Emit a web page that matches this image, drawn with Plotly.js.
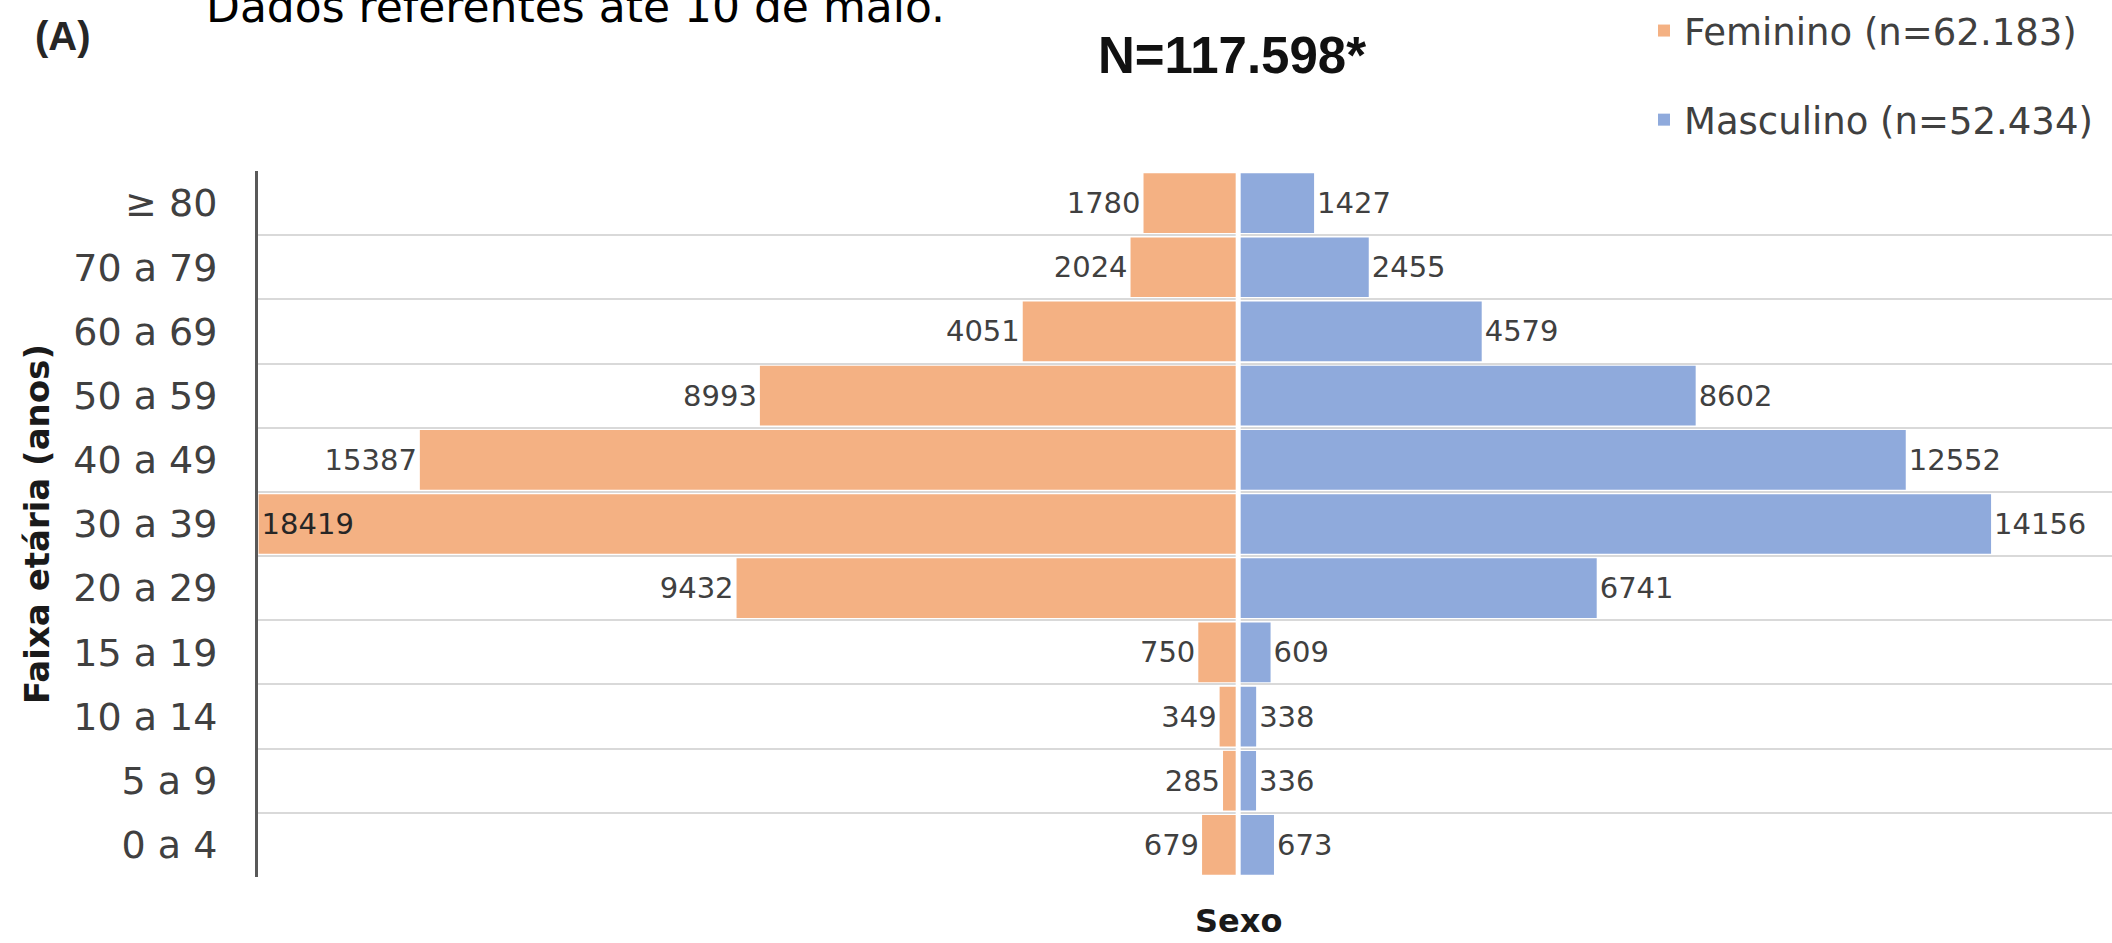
<!DOCTYPE html>
<html>
<head>
<meta charset="utf-8">
<script src="https://cdn.plot.ly/plotly-3.0.1.min.js"></script>
<style>
  html, body { margin: 0; padding: 0; background: #ffffff; overflow: hidden; }
  #chart { width: 2112px; height: 943px; }
</style>
</head>
<body>
<div id="chart"></div>
<script>
// Age groups, listed from bottom to top of the pyramid
const ageGroups = ["0 a 4", "5 a 9", "10 a 14", "15 a 19", "20 a 29", "30 a 39",
                   "40 a 49", "50 a 59", "60 a 69", "70 a 79", "\u2265 80"];
// Female cases per age group
const femaleValues = [679, 285, 349, 750, 9432, 18419, 15387, 8993, 4051, 2024, 1780];
// Male cases per age group
const maleValues = [673, 336, 338, 609, 6741, 14156, 12552, 8602, 4579, 2455, 1427];

const femaleName = "Feminino (n=62.183)";
const maleName = "Masculino (n=52.434)";
const chartTitle = "N=117.598*";
const panelLabel = "(A)";
const noteText = "Dados referentes at\u00e9 10 de maio.";
const yTitle = "Faixa et\u00e1ria (anos)";
const xTitle = "Sexo";

const femaleColor = "#F4B183";
const maleColor = "#8FAADC";
const labelFont = { family: "DejaVu Sans", size: 29, color: "#404040" };

const femaleMax = Math.max(...femaleValues);

const traces = [
  {
    type: "bar",
    orientation: "h",
    name: femaleName,
    legendgroup: "f",
    y: ageGroups,
    x: femaleValues.map(v => -v),
    text: femaleValues.map(v => String(v)),
    textposition: femaleValues.map(v => (v === femaleMax ? "inside" : "outside")),
    insidetextanchor: "end",
    textfont: labelFont,
    insidetextfont: { family: "DejaVu Sans", size: 29, color: "#262626" },
    outsidetextfont: labelFont,
    constraintext: "none",
    cliponaxis: false,
    marker: { color: femaleColor, line: { width: 0 } },
    hoverinfo: "skip"
  },
  {
    type: "bar",
    orientation: "h",
    name: maleName,
    legendgroup: "m",
    y: ageGroups,
    x: maleValues,
    text: maleValues.map(v => String(v)),
    textposition: "outside",
    textfont: labelFont,
    outsidetextfont: labelFont,
    constraintext: "none",
    cliponaxis: false,
    marker: { color: maleColor, line: { width: 0 } },
    hoverinfo: "skip"
  }
];

const W = 2112, H = 943;
const plotL = 258, plotR = 2112, plotT = 171, plotB = 877;
const pw = plotR - plotL, ph = plotB - plotT;
const px = v => (v - plotL) / pw;
const py = v => (plotB - v) / ph;

const layout = {
  width: W,
  height: H,
  margin: { l: plotL, r: W - plotR, t: plotT, b: H - plotB, pad: 0, autoexpand: false },
  paper_bgcolor: "#ffffff",
  plot_bgcolor: "#ffffff",
  barmode: "relative",
  bargap: 0.07,
  showlegend: true,
  title: {
    text: chartTitle,
    x: 1232 / W,
    xref: "container",
    xanchor: "center",
    y: 1 - 55 / H,
    yref: "container",
    yanchor: "middle",
    font: { family: "Liberation Sans", size: 51, color: "#111111", weight: "bold" }
  },
  legend: {
    x: 1644 / W,
    xref: "container",
    xanchor: "left",
    y: 1 + 2 / H,
    yref: "container",
    yanchor: "top",
    traceorder: "grouped",
    tracegroupgap: 38,
    bgcolor: "rgba(0,0,0,0)",
    font: { family: "DejaVu Sans", size: 37, color: "#404040" }
  },
  xaxis: {
    range: [-18430, 16430],
    showgrid: false,
    zeroline: false,
    showticklabels: false,
    showline: false,
    ticks: "",
    fixedrange: true
  },
  yaxis: {
    type: "category",
    range: [-0.5, ageGroups.length - 0.5],
    tickson: "boundaries",
    showgrid: true,
    gridcolor: "#D9D9D9",
    gridwidth: 2,
    showline: true,
    linecolor: "#595959",
    linewidth: 3,
    ticks: "",
    ticklabelstandoff: 30,
    tickfont: { family: "DejaVu Sans", size: 38, color: "#404040" },
    automargin: false,
    title: {
      text: yTitle,
      standoff: 14,
      font: { family: "DejaVu Sans", size: 34, color: "#1a1a1a", weight: "bold" }
    },
    fixedrange: true
  },
  shapes: [
    {
      type: "line",
      xref: "x",
      yref: "paper",
      x0: 0, x1: 0,
      y0: 0, y1: 1,
      line: { color: "#ffffff", width: 5 },
      layer: "above"
    }
  ],
  annotations: [
    {
      text: panelLabel,
      xref: "paper", yref: "paper",
      x: px(63), y: py(36),
      xanchor: "center", yanchor: "middle",
      showarrow: false,
      font: { family: "Liberation Sans", size: 40, color: "#262626", weight: "bold" }
    },
    {
      text: noteText,
      xref: "paper", yref: "paper",
      x: px(204), y: py(34),
      xanchor: "left", yanchor: "bottom",
      showarrow: false,
      font: { family: "DejaVu Sans", size: 44, color: "#000000" }
    },
    {
      text: xTitle,
      xref: "x", yref: "paper",
      x: 0, y: py(921),
      xanchor: "center", yanchor: "middle",
      showarrow: false,
      font: { family: "DejaVu Sans", size: 32, color: "#1a1a1a", weight: "bold" }
    }
  ]
};

Plotly.newPlot("chart", traces, layout, { displayModeBar: false, staticPlot: true });
</script>
</body>
</html>
